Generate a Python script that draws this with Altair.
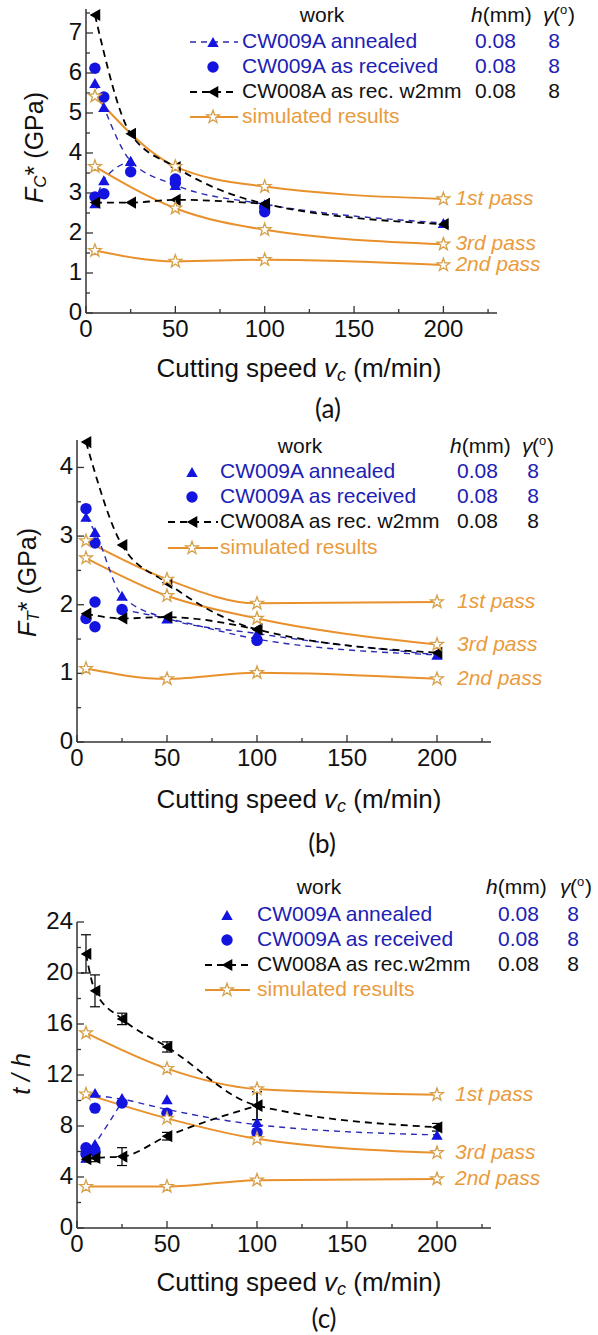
import altair as alt
import pandas as pd

FONT = "Liberation Sans"
CAPTION_FONT = "Lato"
BLUE = "#1414e0"
BLUE_LINE = "#2a2ab4"
BLUE_TEXT = "#2020b4"
ORANGE = "#e8912c"
ORANGE_TEXT = "#ea9b3c"
STAR_EDGE = "#d6a04a"
INK = "#111111"
AXIS_COLOR = "#333333"

# five-pointed star outline in the unit square used by Vega symbols
STAR = ("M0,-1L0.235,-0.324L0.951,-0.309L0.38,0.124L0.588,0.809L0,0.4"
        "L-0.588,0.809L-0.38,0.124L-0.951,-0.309L-0.235,-0.324Z")

# ---------------- shared x axis ----------------
speed_max = 230
speed_ticks = [0, 50, 100, 150, 200]
speed_minor = [25, 75, 125, 175, 225]
sim_speeds = [5, 50, 100, 200]
pass_names = ["1st pass", "2nd pass", "3rd pass"]

# ---------------- (a) specific cutting force F_C* (GPa) ----------------
a_y_max = 7.6
a_y_ticks = [0, 1, 2, 3, 4, 5, 6, 7]
a_y_minor = [0.5, 1.5, 2.5, 3.5, 4.5, 5.5, 6.5, 7.5]
a_sim_1st = [5.42, 3.66, 3.16, 2.85]
a_sim_2nd = [1.56, 1.29, 1.33, 1.20]
a_sim_3rd = [3.66, 2.62, 2.08, 1.72]
a_ann_hi_v = [5, 10, 25, 50, 100, 200]
a_ann_hi = [5.75, 5.15, 3.80, 3.20, 2.72, 2.25]
a_ann_lo_v = [5, 10, 25]
a_ann_lo = [2.74, 3.32, 3.80]
a_rec_v = [5, 5, 10, 10, 25, 50, 50, 100, 100]
a_rec = [6.12, 2.90, 5.40, 2.98, 3.53, 3.35, 3.25, 2.53, 2.65]
a_w2_hi_v = [5, 25, 50, 100, 200]
a_w2_hi = [7.45, 4.48, 3.65, 2.73, 2.22]
a_w2_lo_v = [5, 25, 50, 100]
a_w2_lo = [2.76, 2.76, 2.83, 2.73]

# ---------------- (b) specific thrust force F_T* (GPa) ----------------
b_y_max = 4.4
b_y_ticks = [0, 1, 2, 3, 4]
b_y_minor = [0.5, 1.5, 2.5, 3.5]
b_sim_1st = [2.93, 2.37, 2.02, 2.04]
b_sim_2nd = [1.07, 0.92, 1.01, 0.92]
b_sim_3rd = [2.68, 2.13, 1.80, 1.42]
b_ann_v = [5, 10, 25, 50, 100, 200]
b_ann = [3.28, 3.06, 2.13, 1.80, 1.58, 1.27]
b_rec_v = [5, 5, 10, 10, 10, 25, 100]
b_rec = [3.40, 1.80, 2.90, 2.04, 1.68, 1.93, 1.48]
b_rec_line_v = [25, 50, 100, 200]
b_rec_line = [1.93, 1.80, 1.50, 1.27]
b_w2_hi_v = [5, 25, 50, 100, 200]
b_w2_hi = [4.37, 2.87, 2.32, 1.64, 1.30]
b_w2_lo_v = [5, 25, 50, 100]
b_w2_lo = [1.87, 1.80, 1.82, 1.64]

# ---------------- (c) chip thickness ratio t/h ----------------
c_y_max = 24
c_y_ticks = [0, 4, 8, 12, 16, 20, 24]
c_y_minor = [2, 6, 10, 14, 18, 22]
c_sim_1st = [15.3, 12.5, 10.9, 10.45]
c_sim_2nd = [3.25, 3.25, 3.75, 3.85]
c_sim_3rd = [10.5, 8.6, 7.0, 5.9]
c_ann_v = [5, 10, 10, 25, 50, 100, 200]
c_ann = [5.5, 10.6, 6.6, 10.2, 10.1, 8.3, 7.3]
c_ann_hi_v = [10, 25, 50, 100, 200]
c_ann_hi = [10.4, 10.1, 9.3, 8.1, 7.3]
c_ann_lo_v = [5, 10, 25]
c_ann_lo = [5.6, 6.6, 9.9]
c_rec_v = [5, 5, 10, 10, 25, 50, 100]
c_rec = [6.3, 5.8, 9.4, 6.0, 9.8, 9.0, 7.5]
c_w2_hi_v = [5, 10, 25, 50, 100, 200]
c_w2_hi = [21.5, 18.6, 16.4, 14.2, 9.6, 7.9]
c_w2_hi_err = [1.5, 1.25, 0.45, 0.4, 1.1, 0.3]
c_w2_lo_v = [5, 10, 25, 50, 100]
c_w2_lo = [5.4, 5.5, 5.6, 7.2, 9.6]
c_w2_lo_err = [0.2, 0.3, 0.7, 0.3, 1.1]

ONE = pd.DataFrame({"k": [0]})


def pts(v, val):
    return pd.DataFrame({"v": v, "val": val})


def branches(*pairs):
    parts = []
    for i, (v, val) in enumerate(pairs):
        d = pts(v, val)
        d["branch"] = i
        parts.append(d)
    return pd.concat(parts, ignore_index=True)


def sim_frame(first, second, third):
    parts = []
    for name, vals in zip(pass_names, [first, second, third]):
        d = pts(sim_speeds, vals)
        d["run"] = name
        parts.append(d)
    return pd.concat(parts, ignore_index=True)


def err_frame(v, val, err):
    return pd.DataFrame({"v": v, "lo": [a - e for a, e in zip(val, err)],
                         "hi": [a + e for a, e in zip(val, err)]})


def txt(s, x, y, size=21, color=INK, style="normal", align="left", angle=0,
        font=FONT, baseline="middle"):
    return alt.Chart(ONE).mark_text(
        text=s, font=font, fontSize=size, fontStyle=style, color=color,
        align=align, baseline=baseline, angle=angle,
    ).encode(x=alt.value(x), y=alt.value(y))


def symbol(x, y, shape, color, size, fill=None):
    kw = dict(shape=shape, size=size, opacity=1, filled=True)
    if fill is None:
        kw.update(color=color)
    else:
        kw.update(fill=fill, stroke=color, strokeWidth=1.3)
    return alt.Chart(ONE).mark_point(**kw).encode(x=alt.value(x), y=alt.value(y))


def hline(x0, x1, y, color, width, dash=None):
    kw = dict(color=color, strokeWidth=width)
    if dash:
        kw.update(strokeDash=dash)
    return alt.Chart(ONE).mark_rule(**kw).encode(
        x=alt.value(x0), x2=alt.value(x1), y=alt.value(y))


def legend(L, row3_text, row1_line):
    out = []
    hy = L["head_y"]
    out.append(txt("work", L["work_x"], hy, align="center"))
    hx = L["h_x"] - 30
    out.append(txt("h", hx, hy, style="italic"))
    out.append(txt("(mm)", hx + 11.7, hy))
    gx = L["g_x"]
    out.append(txt("\u03b3", gx, hy, style="italic"))
    out.append(txt("(", gx + 10, hy))
    out.append(txt("o", gx + 17, hy - 6, size=13))
    out.append(txt(")", gx + 25, hy))

    r = L["rows"]
    sx = L["sym_x"]
    l0, l1 = L["line"]
    if row1_line:
        out.append(hline(l0, l1, r[0], BLUE_LINE, 1.4, [6, 5]))
    out.append(symbol(sx, r[0], "triangle-up", BLUE, 130))
    out.append(symbol(sx, r[1], "circle", BLUE, 130))
    out.append(hline(l0, l1, r[2], "black", 1.8, [7, 5]))
    out.append(symbol(sx, r[2], "triangle-left", "black", 150))
    out.append(hline(l0, l1, r[3], ORANGE, 2))
    out.append(symbol(sx, r[3], STAR, STAR_EDGE, 180, fill="white"))

    labels = [("CW009A annealed", BLUE_TEXT), ("CW009A as received", BLUE_TEXT),
              (row3_text, INK), ("simulated results", ORANGE_TEXT)]
    for i, (s, c) in enumerate(labels):
        out.append(txt(s, L["label_x"], r[i], color=c))
        if i < 3:
            out.append(txt("0.08", L["val_x"], r[i], color=c))
            out.append(txt("8", L["deg_x"], r[i], color=c, align="center"))
    return out


def x_title(cx, cy):
    s = cx - 142.5
    return [txt("Cutting speed", s, cy, size=26),
            txt("v", s + 167.6, cy, size=26, style="italic"),
            txt("c", s + 180.6, cy + 7, size=18, style="italic"),
            txt("(m/min)", s + 196.8, cy, size=26)]


def force_title(xc, yb, sub, sub_w):
    return [txt("F", xc, yb, size=25, style="italic", angle=270),
            txt(sub, xc + 6, yb - 15.3, size=17, style="italic", angle=270),
            txt("*", xc, yb - 15.3 - sub_w, size=25, angle=270),
            txt("(GPa)", xc, yb - 15.3 - sub_w - 16.7, size=25, angle=270)]


def panel(cfg):
    xs = alt.Scale(domain=[0, speed_max], range=cfg["xr"], nice=False, zero=False)
    ys = alt.Scale(domain=[0, cfg["ymax"]], range=cfg["yr"], nice=False, zero=False)

    def X(f="v"):
        return alt.X(f"{f}:Q", scale=xs, axis=None)

    def Y(f="val"):
        return alt.Y(f"{f}:Q", scale=ys, axis=None)

    L = []
    # axis lines
    frame_axes = pd.DataFrame({"v": [0], "v2": [speed_max], "val": [0], "val2": [cfg["ymax"]]})
    L.append(alt.Chart(frame_axes).mark_rule(color=AXIS_COLOR, strokeWidth=1.5).encode(
        x=X(), x2="v2", y=Y()))
    L.append(alt.Chart(frame_axes).mark_rule(color=AXIS_COLOR, strokeWidth=1.5).encode(
        x=X(), y=Y(), y2="val2"))
    # inward ticks
    for vals, ln in ((cfg["yt"], 7), (cfg["ym"], 4)):
        fr = pd.DataFrame({"v": [0] * len(vals), "val": vals})
        L.append(alt.Chart(fr).mark_rule(color=AXIS_COLOR, strokeWidth=1.3, x2Offset=ln).encode(
            x=X(), x2="v", y=Y()))
    for vals, ln in ((speed_ticks, 7), (speed_minor, 4)):
        fr = pd.DataFrame({"v": vals, "val": [0] * len(vals)})
        L.append(alt.Chart(fr).mark_rule(color=AXIS_COLOR, strokeWidth=1.3, y2Offset=-ln).encode(
            x=X(), y=Y(), y2="val"))
    # tick labels
    fr = pd.DataFrame({"v": speed_ticks, "val": [0] * len(speed_ticks)})
    L.append(alt.Chart(fr).mark_text(font=FONT, fontSize=24, color=INK, align="center",
                                     baseline="middle", dy=17).encode(
        x=X(), y=Y(), text=alt.Text("v:Q")))
    fr = pd.DataFrame({"v": [0] * len(cfg["yt"]), "val": cfg["yt"]})
    L.append(alt.Chart(fr).mark_text(font=FONT, fontSize=24, color=INK, align="right",
                                     baseline="middle", dx=-4).encode(
        x=X(), y=Y(), text=alt.Text("val:Q")))

    sim = cfg["sim"]
    L.append(alt.Chart(sim).mark_line(
        color=ORANGE, strokeWidth=2, interpolate="monotone").encode(
        x=X(), y=Y(), detail="run:N"))
    L.append(alt.Chart(cfg["blue_lines"]).mark_line(
        color=BLUE_LINE, strokeWidth=1.4, strokeDash=[6, 5],
        interpolate="monotone").encode(x=X(), y=Y(), detail="branch:N"))
    L.append(alt.Chart(cfg["black_lines"]).mark_line(
        color="black", strokeWidth=1.8, strokeDash=[7, 5],
        interpolate="monotone").encode(x=X(), y=Y(), detail="branch:N"))

    if cfg.get("err") is not None:
        e = cfg["err"]
        L.append(alt.Chart(e).mark_rule(color="black", strokeWidth=1.2).encode(
            x=X(), y=Y("lo"), y2="hi"))
        for col in ("lo", "hi"):
            L.append(alt.Chart(e).mark_rule(
                color="black", strokeWidth=1.2, xOffset=-5, x2Offset=5).encode(
                x=X(), x2="v", y=Y(col)))

    L.append(alt.Chart(cfg["rec"]).mark_point(
        shape="circle", filled=True, size=130, color=BLUE, opacity=1).encode(x=X(), y=Y()))
    L.append(alt.Chart(cfg["ann"]).mark_point(
        shape="triangle-up", filled=True, size=130, color=BLUE, opacity=1).encode(x=X(), y=Y()))
    L.append(alt.Chart(cfg["black_lines"]).mark_point(
        shape="triangle-left", filled=True, size=150, color="black", opacity=1).encode(x=X(), y=Y()))
    L.append(alt.Chart(sim).mark_point(
        shape=STAR, filled=True, fill="white", stroke=STAR_EDGE, strokeWidth=1.3,
        size=180, opacity=1).encode(x=X(), y=Y()))

    L.append(alt.Chart(sim[sim["v"] == 200]).mark_text(
        align="left", baseline="middle", dx=cfg["pass_dx"], font=FONT, fontSize=21,
        fontStyle="italic", color=ORANGE_TEXT).encode(x=X(), y=Y(), text="run:N"))

    L += legend(cfg["legend"], cfg["row3"], cfg["row1_line"])
    L += x_title(*cfg["xtitle"])
    L += cfg["ytitle"]
    cx, cy = cfg["caption"]
    L.append(txt(cfg["cap_text"], cx, cy, size=26, font=CAPTION_FONT, align="center"))
    return L


layers = []
layers += panel(dict(
    xr=[86, 497], yr=[313, 9], ymax=a_y_max, yt=a_y_ticks, ym=a_y_minor,
    sim=sim_frame(a_sim_1st, a_sim_2nd, a_sim_3rd),
    blue_lines=branches((a_ann_hi_v, a_ann_hi), (a_ann_lo_v, a_ann_lo)),
    black_lines=branches((a_w2_hi_v, a_w2_hi), (a_w2_lo_v, a_w2_lo)),
    ann=pd.concat([pts(a_ann_hi_v, a_ann_hi), pts(a_ann_lo_v, a_ann_lo)], ignore_index=True),
    rec=pts(a_rec_v, a_rec), err=None, pass_dx=12,
    legend=dict(head_y=16, work_x=322, h_x=501, g_x=543, rows=[42, 67, 92, 117],
                sym_x=213, line=(190, 238), label_x=242, val_x=475, deg_x=554),
    row3="CW008A as rec. w2mm", row1_line=True,
    xtitle=(299, 369), ytitle=force_title(35, 203, "C", 12.3),
    caption=(328, 410), cap_text="(a)",
))
layers += panel(dict(
    xr=[77, 491], yr=[742, 440], ymax=b_y_max, yt=b_y_ticks, ym=b_y_minor,
    sim=sim_frame(b_sim_1st, b_sim_2nd, b_sim_3rd),
    blue_lines=branches((b_ann_v, b_ann), (b_rec_line_v, b_rec_line)),
    black_lines=branches((b_w2_hi_v, b_w2_hi), (b_w2_lo_v, b_w2_lo)),
    ann=pts(b_ann_v, b_ann), rec=pts(b_rec_v, b_rec), err=None, pass_dx=20,
    legend=dict(head_y=447, work_x=300, h_x=480, g_x=522, rows=[472, 497, 522, 548],
                sym_x=192, line=(168, 218), label_x=220, val_x=457, deg_x=533),
    row3="CW008A as rec. w2mm", row1_line=False,
    xtitle=(299, 800), ytitle=force_title(28, 637, "T", 10.4),
    caption=(322, 845), cap_text="(b)",
))
layers += panel(dict(
    xr=[77, 491], yr=[1228, 922], ymax=c_y_max, yt=c_y_ticks, ym=c_y_minor,
    sim=sim_frame(c_sim_1st, c_sim_2nd, c_sim_3rd),
    blue_lines=branches((c_ann_hi_v, c_ann_hi), (c_ann_lo_v, c_ann_lo)),
    black_lines=branches((c_w2_hi_v, c_w2_hi), (c_w2_lo_v, c_w2_lo)),
    ann=pts(c_ann_v, c_ann), rec=pts(c_rec_v, c_rec),
    err=pd.concat([err_frame(c_w2_hi_v, c_w2_hi, c_w2_hi_err),
                   err_frame(c_w2_lo_v, c_w2_lo, c_w2_lo_err)], ignore_index=True),
    pass_dx=18,
    legend=dict(head_y=888, work_x=319, h_x=516, g_x=560, rows=[915, 940, 965, 990],
                sym_x=227, line=(205, 250), label_x=257, val_x=498, deg_x=573),
    row3="CW008A as rec.w2mm", row1_line=False,
    xtitle=(299, 1283), ytitle=[txt("t / h", 22, 1074, size=25, style="italic",
                                    angle=270, align="center")],
    caption=(324, 1320), cap_text="(c)",
))

chart = alt.layer(*layers).resolve_scale(x="independent", y="independent").properties(
    width=598, height=1335, padding=0,
    autosize=alt.AutoSizeParams(type="none"),
).configure_view(stroke=None)

chart.save("out.html", embed_options={"renderer": "svg", "actions": False})
